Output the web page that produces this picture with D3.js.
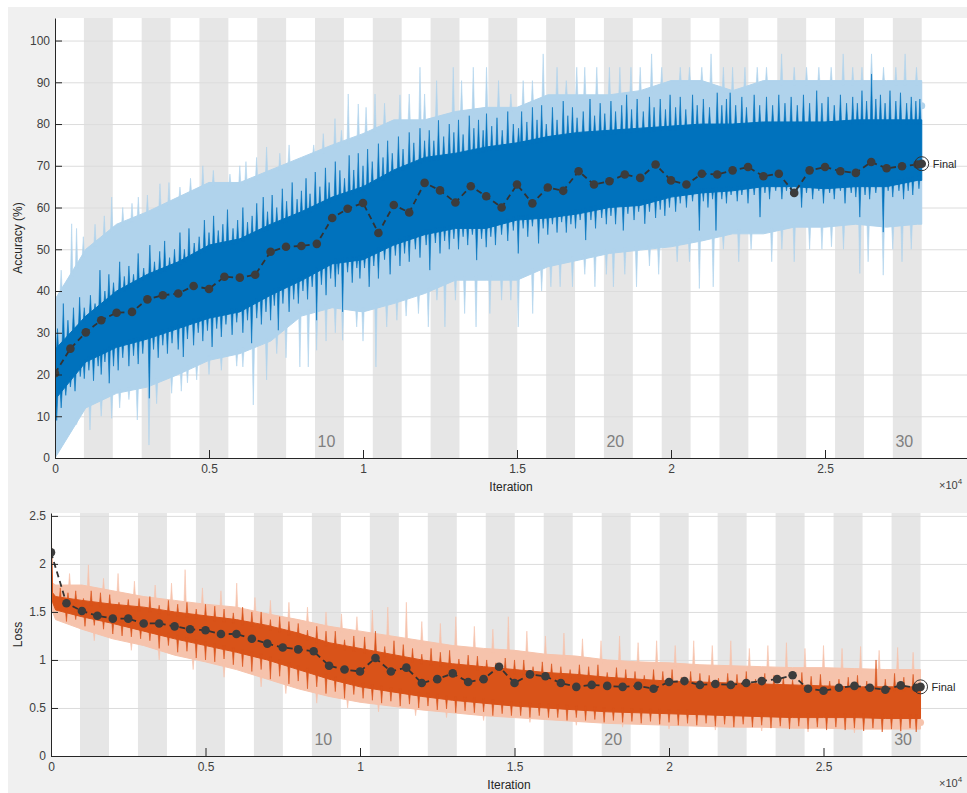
<!DOCTYPE html>
<html>
<head>
<meta charset="utf-8">
<script src="https://cdn.jsdelivr.net/npm/d3@7"></script>
<style>
  body { margin: 0; background: #fff; }
  text { font-family: "Liberation Sans", Arial, sans-serif; }
</style>
</head>
<body>
<svg id="chart" width="967" height="793"></svg>
<script>
// ---- data ----
// training accuracy: solid part of the raw (light) and smoothed (dark) traces
var accIters = [0, 1000, 2000, 3000, 4000, 5000, 6000, 7000, 8000, 9000, 10000, 11000, 12000, 13000, 14000,
                15000, 16000, 17000, 18000, 19000, 20000, 21000, 22000, 23000, 24000, 25000, 26000, 27000, 28000, 28140];
var accRawHi = [38, 50, 56, 59, 62.5, 66, 66, 69, 72, 75, 77.7, 81, 81, 83, 84, 84, 87, 87, 87, 88,
                90.4, 90.4, 88, 90.4, 90.4, 90.4, 90.4, 90.4, 90.4, 90.4];
var accRawLo = [0, 12, 15.5, 17, 20, 23.4, 25, 28, 34, 36, 35, 37, 39.4, 42.6, 42.6, 42.6, 45.8, 47.4, 49, 49.8,
                50.6, 52, 53.7, 53.7, 55.3, 55.3, 56, 55.3, 56, 56];
var accSmHi = [26, 34, 40, 44, 47, 51, 52.5, 56, 59, 62.5, 65, 69, 72, 73, 74.5, 75.5, 77, 78, 78.5, 79,
               79.5, 80, 80, 80.5, 80.5, 80.5, 81, 81, 81, 81];
var accSmLo = [14, 23, 26.5, 28.5, 31, 33.5, 35, 39, 42.5, 46.5, 47.5, 51, 53.5, 55, 55, 57, 57.5, 58.5, 60, 60.5,
               62.5, 63.5, 64, 65, 65, 64.5, 65, 65, 66.5, 66.5];
// spikes sticking out of those bands [iteration, value]
var accRawUp = [[200, 45], [541, 56.1], [700, 55], [920, 53], [1300, 56], [1600, 58], [1840, 62.5], [2200, 60],
                [2500, 61], [2705, 62.5], [3000, 63], [3408, 65.7], [3700, 66], [4057, 64.9], [4400, 67],
                [4800, 70], [5140, 68.9], [5680, 68], [6000, 70], [6200, 71], [6546, 72], [6870, 74.5],
                [7300, 73], [7600, 75], [8060, 72], [8400, 75], [8710, 77.7], [9090, 81.3], [9300, 78.5],
                [9520, 87.2], [9846, 84.8], [10100, 84], [10390, 87.2], [10700, 85], [11200, 87], [11500, 87.2],
                [11850, 93.6], [12000, 87.2], [12390, 90.4], [12930, 93.6], [13200, 90.4], [13580, 93.6],
                [14010, 93.6], [14400, 90.4], [14800, 87.2], [15200, 90.4], [15500, 90.4], [15850, 96.8],
                [16300, 93.6], [16600, 90.4], [16940, 93.6], [17200, 93.6], [17590, 93.6], [18000, 93.6],
                [18340, 93.6], [18700, 93.6], [19000, 93.6], [19370, 96.8], [19700, 93.6], [20300, 93.6],
                [20600, 93.6], [21000, 93.6], [21300, 96.8], [21700, 93.6], [22000, 93.6], [22400, 93.6],
                [22800, 93.6], [23100, 93.6], [23590, 96.8], [24000, 93.6], [24400, 93.6], [24800, 93.6],
                [25200, 93.6], [25590, 96.8], [25900, 93.6], [26200, 93.6], [26510, 96.8], [26900, 93.6],
                [27300, 93.6], [27600, 96.8], [27970, 93.6]];
var accRawDown = [[54, 1.9], [250, 5], [433, 5.9], [700, 8], [1136, 6.7], [1500, 10], [1840, 9.5], [2100, 12],
                  [2400, 14], [2672, 9.1], [3051, 3.1], [3300, 13], [3787, 15.5], [4100, 16], [4300, 18],
                  [4600, 18.7], [5000, 20], [5400, 21], [5900, 22], [6100, 21.8], [6438, 12.7], [6870, 18.7],
                  [7200, 25], [7500, 24], [7950, 21.8], [8223, 21.8], [8494, 25.8], [8800, 28], [9100, 30],
                  [9338, 28.2], [9795, 31.4], [10000, 28], [10420, 21.8], [10770, 31.4], [11100, 33],
                  [11400, 34], [11800, 34.6], [12120, 31.4], [12400, 37.8], [12660, 31.4], [13000, 37.8],
                  [13300, 34.6], [13670, 31.4], [14120, 34.6], [14500, 37.8], [14800, 37.8], [15040, 31.4],
                  [15510, 34.6], [15800, 40], [16100, 41], [16400, 41], [16800, 41], [17200, 44], [17530, 41],
                  [17900, 44], [18130, 41], [18500, 44], [18880, 41], [19300, 46], [19600, 44], [20200, 47],
                  [20600, 47], [20920, 40.6], [21370, 41], [21700, 50], [22200, 47], [22600, 50], [23270, 47],
                  [23600, 50], [24000, 47], [24500, 50], [24900, 50], [25210, 50.6], [25600, 50], [26130, 44.2],
                  [26400, 47], [26890, 43.8], [27200, 50], [27500, 47], [27800, 50]];
var accSmUp = [[80, 31], [270, 37], [420, 33], [600, 36], [800, 38.5], [950, 36], [1150, 39], [1300, 37],
               [1460, 45], [1620, 40], [1750, 44], [1900, 42], [2100, 47], [2250, 43.5], [2400, 46], [2550, 44],
               [2700, 49], [2880, 45.5], [3080, 51], [3230, 47], [3400, 49.5], [3560, 52], [3720, 48], [3880, 50],
               [4057, 54], [4200, 50], [4350, 55], [4520, 51.5], [4680, 53], [4850, 57], [5000, 54], [5150, 58],
               [5300, 54.5], [5450, 56], [5600, 59.5], [5780, 55], [5930, 57], [6100, 60], [6250, 56.5],
               [6400, 58], [6550, 61], [6760, 62.5], [6900, 59], [7050, 63], [7200, 60], [7380, 64.5],
               [7520, 61.5], [7700, 66], [7860, 62], [8000, 64], [8150, 67], [8280, 63.3], [8450, 68.5],
               [8600, 65], [8780, 69.5], [8900, 66], [9100, 71], [9250, 68.9], [9400, 67], [9550, 72.5],
               [9700, 69], [9846, 73], [10000, 70], [10150, 74], [10300, 71], [10500, 75.3], [10650, 72],
               [10800, 76], [10950, 73], [11150, 77], [11300, 74], [11500, 78], [11650, 75.5], [11850, 79],
               [12000, 76], [12150, 78.5], [12300, 76], [12450, 80.9], [12620, 77], [12800, 80], [12950, 78],
               [13100, 81], [13250, 77.5], [13450, 82], [13600, 79], [13750, 81], [13900, 78.5], [14010, 82.5],
               [14180, 79.5], [14350, 81.5], [14520, 78.5], [14700, 83], [14880, 80], [15050, 79], [15150, 83],
               [15320, 80.5], [15500, 84], [15650, 81], [15800, 84.5], [15950, 80], [16150, 84], [16300, 81],
               [16500, 85.5], [16650, 82], [16800, 84], [16950, 81.5], [17150, 83], [17370, 86], [17520, 82],
               [17700, 85], [17850, 82.5], [18050, 85.5], [18200, 83], [18400, 84.5], [18560, 87], [18720, 83.5],
               [18900, 86], [19100, 83], [19300, 86.5], [19450, 84], [19650, 86], [19820, 83.5], [19970, 87],
               [20150, 84], [20300, 86.5], [20480, 83.5], [20700, 87], [20850, 84.5], [21050, 86], [21250, 84],
               [21500, 87.5], [21650, 84.5], [21800, 86], [21920, 87.5], [22100, 84.5], [22300, 86.5],
               [22450, 84], [22700, 87], [22880, 84.5], [23100, 86.5], [23300, 84.5], [23500, 87], [23700, 85],
               [23900, 86.5], [24100, 84.5], [24300, 87], [24500, 85], [24730, 88], [24900, 85], [25100, 86.5],
               [25300, 84.5], [25500, 87], [25700, 85], [25900, 86.5], [26050, 85], [26200, 88], [26350, 85.5],
               [26510, 92], [26650, 86], [26800, 87], [26950, 85], [27110, 88], [27300, 85.5], [27450, 87.5],
               [27650, 85], [27800, 86.5], [27950, 85.5], [28080, 86]];
var accSmDown = [[54, 9], [200, 12], [350, 15], [500, 17], [650, 16], [820, 19.5], [950, 19], [1100, 21],
                 [1250, 18.5], [1400, 22], [1500, 20], [1620, 23], [1760, 17.9], [1900, 22], [2050, 21],
                 [2200, 24], [2400, 22], [2550, 24.5], [2700, 22.5], [2850, 25], [3062, 14.3], [3200, 26],
                 [3350, 24], [3500, 27], [3650, 25], [3800, 27.5], [4000, 26], [4165, 24.2], [4300, 28.5],
                 [4500, 27], [4650, 30], [4800, 28], [4950, 30.5], [5100, 26.6], [5250, 31], [5400, 29],
                 [5550, 32], [5750, 29.5], [5900, 32.5], [6100, 30], [6250, 33], [6384, 27.5], [6550, 33.5],
                 [6700, 32], [6850, 35], [7000, 33], [7120, 36.5], [7250, 30.6], [7400, 37], [7600, 35],
                 [7750, 38], [7900, 37], [8050, 40], [8200, 38], [8350, 41], [8494, 33], [8650, 41.5], [8800, 39],
                 [8950, 43], [9100, 41], [9200, 44], [9338, 35], [9500, 44.5], [9650, 42], [9800, 45.5],
                 [9900, 43], [10050, 45.5], [10200, 41], [10350, 46], [10500, 43], [10700, 47.5], [10880, 44],
                 [11050, 48.5], [11200, 46], [11350, 49], [11500, 47], [11700, 50], [11850, 48], [12050, 51],
                 [12170, 45], [12350, 51.5], [12500, 49], [12650, 52], [12800, 50], [12950, 52.5], [13100, 50],
                 [13250, 53], [13400, 51], [13550, 53.5], [13690, 47.4], [13850, 52.5], [14000, 50.5],
                 [14150, 53], [14300, 51], [14500, 53.5], [14700, 52], [14880, 54.5], [15040, 49], [15200, 55],
                 [15350, 53], [15500, 55.5], [15700, 51.4], [15850, 55], [16000, 53.5], [16150, 56], [16300, 54],
                 [16450, 56.5], [16600, 54], [16750, 56], [16900, 55], [17050, 57], [17230, 52.2], [17400, 57],
                 [17550, 55], [17750, 57.5], [17900, 56], [18050, 58], [18200, 56], [18450, 54.5], [18600, 58.5],
                 [18800, 57], [18950, 59], [19150, 56.1], [19300, 59], [19500, 57.5], [19650, 59.5], [19800, 58],
                 [19950, 60], [20150, 59], [20300, 61], [20500, 60], [20700, 61.5], [20920, 54.5], [21050, 61.5],
                 [21200, 60], [21350, 62], [21460, 54.5], [21650, 62], [21800, 61], [21950, 63], [22150, 61.5],
                 [22300, 63], [22500, 61], [22700, 63], [22890, 57.7], [23050, 63.5], [23200, 62], [23400, 64],
                 [23600, 62], [23750, 64], [23900, 63], [24100, 64], [24240, 60], [24400, 63.5], [24600, 62],
                 [24800, 64], [24950, 61], [25150, 63.5], [25300, 62], [25500, 64], [25650, 61], [25850, 63.5],
                 [26000, 62.5], [26130, 57.7], [26300, 63], [26450, 62], [26650, 63.5], [26890, 54.1],
                 [27050, 64], [27200, 62.5], [27400, 64], [27550, 62], [27700, 64], [27850, 63], [28050, 64.5]];
// validation accuracy every 500 iterations
var valAcc = [20.3, 26.2, 30.1, 33.0, 34.8, 35.0, 38.0, 39.0, 39.4, 41.2, 40.5, 43.4, 43.2, 43.9, 49.4, 50.6,
              50.8, 51.3, 57.5, 59.7, 61.1, 53.9, 60.6, 58.8, 65.9, 64.1, 61.2, 65.1, 62.7, 60.0, 65.5, 61.0,
              64.8, 64.0, 68.7, 65.5, 66.3, 67.9, 67.1, 70.3, 66.5, 65.5, 68.1, 67.9, 68.9, 69.7, 67.5, 68.1,
              63.5, 68.9, 69.7, 68.7, 68.3, 70.9, 69.4, 69.9, 70.3];
var finalAcc = 70.5;
var lastRawAcc = 84.4;

// training loss
var lossIters = [0, 50, 150, 1000, 2000, 3000, 4000, 5000, 6000, 7000, 8000, 9000, 10000, 11000, 12000, 13000,
                 14000, 15000, 16000, 17000, 18000, 19000, 20000, 21000, 22000, 23000, 24000, 25000, 26000,
                 27000, 28000, 28140];
var lossRawHi = [2.45, 1.8, 1.78, 1.78, 1.72, 1.66, 1.62, 1.58, 1.55, 1.48, 1.42, 1.35, 1.3, 1.25, 1.2, 1.15,
                 1.12, 1.1, 1.06, 1.04, 1.0, 0.98, 0.97, 0.95, 0.94, 0.93, 0.92, 0.92, 0.91, 0.9, 0.9, 0.9];
var lossRawLo = [2.3, 1.5, 1.42, 1.32, 1.22, 1.15, 1.05, 0.98, 0.9, 0.8, 0.7, 0.62, 0.56, 0.52, 0.48, 0.45,
                 0.42, 0.4, 0.38, 0.36, 0.34, 0.33, 0.32, 0.31, 0.3, 0.3, 0.29, 0.29, 0.28, 0.28, 0.28, 0.28];
var lossSmHi = [2.4, 1.7, 1.66, 1.62, 1.58, 1.55, 1.5, 1.46, 1.42, 1.36, 1.28, 1.18, 1.12, 1.06, 1.0, 0.96,
                0.93, 0.9, 0.87, 0.85, 0.82, 0.8, 0.78, 0.77, 0.76, 0.75, 0.74, 0.73, 0.72, 0.72, 0.72, 0.72];
var lossSmLo = [2.3, 1.6, 1.52, 1.45, 1.38, 1.3, 1.22, 1.15, 1.08, 1.0, 0.9, 0.8, 0.72, 0.67, 0.62, 0.58,
                0.55, 0.52, 0.5, 0.48, 0.46, 0.45, 0.44, 0.43, 0.42, 0.41, 0.4, 0.4, 0.4, 0.39, 0.39, 0.39];
var lossRawUp = [[600, 1.9], [1210, 1.99], [1700, 1.85], [2170, 1.9], [2700, 1.82], [3370, 1.78], [3900, 1.8],
                 [4340, 1.94], [4900, 1.75], [5500, 1.72], [6010, 1.8], [6600, 1.65], [7100, 1.62], [7700, 1.6],
                 [8300, 1.55], [8900, 1.5], [9400, 1.48], [9900, 1.45], [10400, 1.52], [10900, 1.55],
                 [11500, 1.6], [12000, 1.4], [12600, 1.38], [13100, 1.45], [13700, 1.35], [14300, 1.32],
                 [14800, 1.45], [15400, 1.3], [16000, 1.25], [16600, 1.28], [17200, 1.22], [17800, 1.2],
                 [18400, 1.25], [19000, 1.18], [19600, 1.2], [20200, 1.15], [20800, 1.2], [21400, 1.15],
                 [22000, 1.2], [22600, 1.12], [23200, 1.15], [23800, 1.18], [24400, 1.12], [25000, 1.15],
                 [25600, 1.12], [26200, 1.14], [26800, 1.1], [27400, 1.13], [27900, 1.08]];
var lossRawDown = [[1400, 1.2], [2600, 1.1], [3500, 1.0], [4600, 0.9], [5600, 0.82], [6800, 0.72], [7600, 0.65],
                   [8600, 0.55], [9600, 0.5], [10600, 0.46], [11800, 0.42], [12800, 0.4], [14000, 0.37],
                   [15500, 0.35], [17000, 0.32], [18500, 0.3], [20000, 0.28], [21500, 0.27], [23000, 0.26],
                   [24500, 0.25], [26000, 0.24], [27500, 0.24]];
var lossSmUp = [[300, 1.75], [550, 1.7], [800, 1.72], [1050, 1.64], [1300, 1.72], [1600, 1.7], [1900, 1.68],
                [2200, 1.6], [2500, 1.63], [2850, 1.64], [3200, 1.66], [3500, 1.57], [3800, 1.62], [4100, 1.58],
                [4400, 1.6], [4700, 1.53], [5000, 1.58], [5300, 1.56], [5600, 1.53], [5900, 1.49], [6200, 1.55],
                [6500, 1.5], [6800, 1.5], [7100, 1.42], [7400, 1.45], [7700, 1.4], [8000, 1.38], [8300, 1.31],
                [8600, 1.35], [8900, 1.3], [9200, 1.3], [9500, 1.21], [9800, 1.25], [10150, 1.24], [10500, 1.3],
                [10800, 1.14], [11100, 1.2], [11400, 1.16], [11700, 1.12], [12000, 1.06], [12300, 1.12],
                [12600, 1.08], [12900, 1.1], [13200, 1.01], [13500, 1.05], [13800, 1.04], [14100, 1.0],
                [14400, 0.97], [14700, 1.02], [15000, 1.0], [15300, 1.0], [15600, 0.93], [15900, 0.98],
                [16200, 0.96], [16500, 0.93], [16800, 0.9], [17100, 0.95], [17400, 0.93], [17700, 0.95],
                [18000, 0.87], [18300, 0.92], [18600, 0.9], [18900, 0.88], [19200, 0.84], [19500, 0.9],
                [19800, 0.88], [20100, 0.9], [20400, 0.82], [20700, 0.88], [21000, 0.86], [21300, 0.84],
                [21600, 0.81], [21900, 0.86], [22200, 0.85], [22500, 0.88], [22800, 0.8], [23100, 0.86],
                [23400, 0.84], [23700, 0.82], [24000, 0.79], [24300, 0.87], [24600, 0.83], [24900, 0.85],
                [25200, 0.78], [25500, 0.8], [25800, 0.82], [26100, 0.84], [26400, 0.78], [26700, 1.0],
                [27000, 0.8], [27300, 0.86], [27600, 0.82], [27900, 0.85]];
var lossSmDown = [[500, 1.4], [800, 1.42], [1100, 1.35], [1400, 1.36], [1700, 1.32], [2000, 1.27], [2300, 1.25],
                  [2600, 1.24], [2900, 1.22], [3200, 1.2], [3500, 1.12], [3800, 1.15], [4100, 1.08], [4400, 1.09],
                  [4700, 1.02], [5000, 1.0], [5300, 0.98], [5600, 1.01], [5900, 0.95], [6200, 0.93], [6500, 0.88],
                  [6800, 0.9], [7100, 0.8], [7400, 0.83], [7700, 0.75], [8000, 0.78], [8300, 0.7], [8600, 0.72],
                  [8900, 0.65], [9200, 0.67], [9500, 0.6], [9800, 0.64], [10100, 0.6], [10400, 0.58],
                  [10700, 0.55], [11000, 0.57], [11300, 0.52], [11600, 0.54], [11900, 0.5], [12200, 0.52],
                  [12500, 0.48], [12800, 0.49], [13100, 0.45], [13400, 0.47], [13700, 0.45], [14000, 0.46],
                  [14300, 0.42], [14600, 0.44], [14900, 0.42], [15200, 0.42], [15500, 0.4], [15800, 0.42],
                  [16100, 0.4], [16400, 0.4], [16700, 0.37], [17000, 0.4], [17300, 0.37], [17600, 0.38],
                  [17900, 0.35], [18200, 0.37], [18500, 0.35], [18800, 0.36], [19100, 0.34], [19400, 0.36],
                  [19700, 0.33], [20000, 0.35], [20300, 0.32], [20600, 0.34], [20900, 0.32], [21200, 0.34],
                  [21500, 0.31], [21800, 0.33], [22100, 0.3], [22400, 0.33], [22700, 0.3], [23000, 0.32],
                  [23300, 0.29], [23600, 0.31], [23900, 0.28], [24200, 0.31], [24500, 0.28], [24800, 0.3],
                  [25100, 0.27], [25400, 0.3], [25700, 0.27], [26000, 0.29], [26300, 0.26], [26600, 0.29],
                  [26900, 0.25], [27200, 0.28], [27500, 0.26], [27800, 0.29], [28000, 0.25]];
var valLoss = [2.12, 1.59, 1.51, 1.46, 1.43, 1.43, 1.38, 1.38, 1.35, 1.32, 1.31, 1.27, 1.27, 1.22, 1.17, 1.13,
               1.11, 1.09, 0.94, 0.90, 0.88, 1.02, 0.88, 0.92, 0.76, 0.80, 0.86, 0.77, 0.80, 0.93, 0.76, 0.85,
               0.83, 0.76, 0.72, 0.74, 0.73, 0.72, 0.73, 0.70, 0.77, 0.78, 0.74, 0.75, 0.74, 0.76, 0.78, 0.80,
               0.84, 0.70, 0.68, 0.71, 0.73, 0.71, 0.69, 0.735, 0.71];
var finalLoss = 0.72;
var lastRawLoss = 0.35;

var valEvery = 500;
var lastIter = 28140;
var numEpochs = 30;
var epochLabels = [10, 20, 30];
var xTicks = [0, 5000, 10000, 15000, 20000, 25000];

var svg = d3.select("#chart");

// figure background
svg.append("rect").attr("x", 8).attr("y", 7).attr("width", 959).attr("height", 786).attr("fill", "#f0f0f0");

function drawPanel(p) {
    var g = svg.append("g");
    var x = d3.scaleLinear().domain([0, p.xMax]).range([p.left, p.right]);
    var y = d3.scaleLinear().domain([0, p.yMax]).range([p.bottom, p.top]);
    var epochLen = lastIter / numEpochs;

    g.append("rect").attr("x", p.left).attr("y", p.top)
        .attr("width", p.right - p.left).attr("height", p.bottom - p.top).attr("fill", "#fff");

    // shaded epochs (every second one)
    var evenEpochs = d3.range(2, numEpochs + 1, 2);
    g.selectAll("rect.epoch").data(evenEpochs).join("rect")
        .attr("class", "epoch")
        .attr("x", function(e) { return x((e - 1) * epochLen); })
        .attr("y", p.top)
        .attr("width", function(e) { return x(e * epochLen) - x((e - 1) * epochLen); })
        .attr("height", p.bottom - p.top)
        .attr("fill", "#e6e6e6");

    // horizontal grid
    g.selectAll("line.grid").data(p.yTicks).join("line")
        .attr("x1", p.left).attr("x2", p.right)
        .attr("y1", function(d) { return y(d) + 0.5; })
        .attr("y2", function(d) { return y(d) + 0.5; })
        .attr("stroke", "#dcdcdc").attr("stroke-width", 1);

    g.selectAll("text.epoch").data(epochLabels).join("text")
        .attr("x", function(e) { return x((e - 0.5) * epochLen) - 3; })
        .attr("y", p.bottom - 11)
        .attr("text-anchor", "middle")
        .attr("font-size", 16).attr("fill", "#7f7f7f")
        .text(function(e) { return e; });

    var clipId = "clip" + p.name;
    g.append("clipPath").attr("id", clipId).append("rect")
        .attr("x", p.left).attr("y", p.top).attr("width", p.right - p.left).attr("height", p.bottom - p.top);
    var plot = g.append("g").attr("clip-path", "url(#" + clipId + ")");

    var area = function(hi, lo) {
        return d3.area()
            .x(function(d, i) { return x(p.iters[i]); })
            .y0(function(d, i) { return y(lo[i]); })
            .y1(function(d, i) { return y(hi[i]); })(hi);
    };
    // a spike is a thin wedge from the band edge out to the spike value
    var spikes = function(list, edgeVals, dir, color) {
        var edge = d3.scaleLinear().domain(p.iters).range(edgeVals);
        plot.append("g").selectAll("path").data(list).join("path")
            .attr("d", function(d) {
                var cx = x(d[0]), by = y(edge(d[0])) + dir * 4;
                return "M" + (cx - 1.2) + "," + by + "L" + cx + "," + y(d[1]) + "L" + (cx + 1.2) + "," + by + "Z";
            })
            .attr("fill", color).attr("stroke", color).attr("stroke-width", 0.6);
    };

    plot.append("path").attr("d", area(p.rawHi, p.rawLo)).attr("fill", p.light)
        .attr("stroke", p.light).attr("stroke-width", 1);
    spikes(p.rawUp, p.rawHi, 1, p.light);
    spikes(p.rawDown, p.rawLo, -1, p.light);
    plot.append("circle").attr("cx", x(lastIter)).attr("cy", y(p.lastRaw)).attr("r", 3.5).attr("fill", p.light);

    plot.append("path").attr("d", area(p.smHi, p.smLo)).attr("fill", p.dark)
        .attr("stroke", p.dark).attr("stroke-width", 1);
    spikes(p.smUp, p.smHi, 1, p.dark);
    spikes(p.smDown, p.smLo, -1, p.dark);

    // validation
    var valPts = p.val.map(function(v, i) { return [i * valEvery, v]; });
    valPts.push([lastIter, p.finalVal]);
    plot.append("path")
        .attr("d", d3.line().x(function(d) { return x(d[0]); }).y(function(d) { return y(d[1]); })(valPts))
        .attr("fill", "none").attr("stroke", "#333").attr("stroke-width", 1.8).attr("stroke-dasharray", "6,4");
    plot.append("g").selectAll("circle").data(valPts).join("circle")
        .attr("cx", function(d) { return x(d[0]); })
        .attr("cy", function(d) { return y(d[1]); })
        .attr("r", 4.3).attr("fill", "#3c3c3c");
    g.append("circle").attr("cx", x(lastIter)).attr("cy", y(p.finalVal)).attr("r", 7)
        .attr("fill", "none").attr("stroke", "#333").attr("stroke-width", 1);
    g.append("text").attr("x", x(lastIter) + 11).attr("y", y(p.finalVal) + 4)
        .attr("font-size", 11).attr("fill", "#262626").text("Final");

    // axes
    var yAxis = g.append("g").attr("transform", "translate(" + p.left + ",0)")
        .call(d3.axisLeft(y).tickValues(p.yTicks).tickSize(-7).tickSizeOuter(0).tickPadding(p.yPad)
            .tickFormat(function(d) { return d; }));
    var xAxis = g.append("g").attr("transform", "translate(0," + p.bottom + ")")
        .call(d3.axisBottom(x).tickValues(xTicks).tickSize(-8).tickSizeOuter(0).tickPadding(6)
            .tickFormat(function(d) { return d / 10000; }));
    [yAxis, xAxis].forEach(function(a) {
        a.select(".domain").attr("stroke", "#262626");
        a.selectAll(".tick line").attr("stroke", "#262626");
        a.selectAll("text").attr("font-size", 12).attr("fill", "#404040")
            .attr("font-family", "'Liberation Sans', Arial, sans-serif");
    });

    g.append("text").attr("x", (p.left + 967) / 2).attr("y", p.bottom + 33)
        .attr("text-anchor", "middle").attr("font-size", 12).attr("fill", "#262626").text("Iteration");
    g.append("text")
        .attr("transform", "translate(" + 22 + "," + ((p.top + p.bottom) / 2) + ") rotate(-90)")
        .attr("text-anchor", "middle").attr("font-size", 12).attr("fill", "#262626").text(p.yLabel);
    var ex = g.append("text").attr("x", 939).attr("y", p.bottom + 31).attr("font-size", 11).attr("fill", "#404040");
    ex.append("tspan").text("\u00d710");
    ex.append("tspan").attr("dy", -5).attr("font-size", 8).text("4");
}

drawPanel({
    name: "acc", left: 55, right: 967, top: 18, bottom: 458,
    xMax: 29610, yMax: 105.4, yTicks: d3.range(0, 101, 10), yPad: 5,
    iters: accIters, rawHi: accRawHi, rawLo: accRawLo, smHi: accSmHi, smLo: accSmLo,
    rawUp: accRawUp, rawDown: accRawDown, smUp: accSmUp, smDown: accSmDown,
    val: valAcc, finalVal: finalAcc, lastRaw: lastRawAcc,
    light: "#b0d3ec", dark: "#0072bd", yLabel: "Accuracy (%)"
});

drawPanel({
    name: "loss", left: 51, right: 967, top: 513, bottom: 756,
    xMax: 29644, yMax: 2.53, yTicks: [0, 0.5, 1, 1.5, 2, 2.5], yPad: 5,
    iters: lossIters, rawHi: lossRawHi, rawLo: lossRawLo, smHi: lossSmHi, smLo: lossSmLo,
    rawUp: lossRawUp, rawDown: lossRawDown, smUp: lossSmUp, smDown: lossSmDown,
    val: valLoss, finalVal: finalLoss, lastRaw: lastRawLoss,
    light: "#f6c3ac", dark: "#d95319", yLabel: "Loss"
});
</script>
</body>
</html>
